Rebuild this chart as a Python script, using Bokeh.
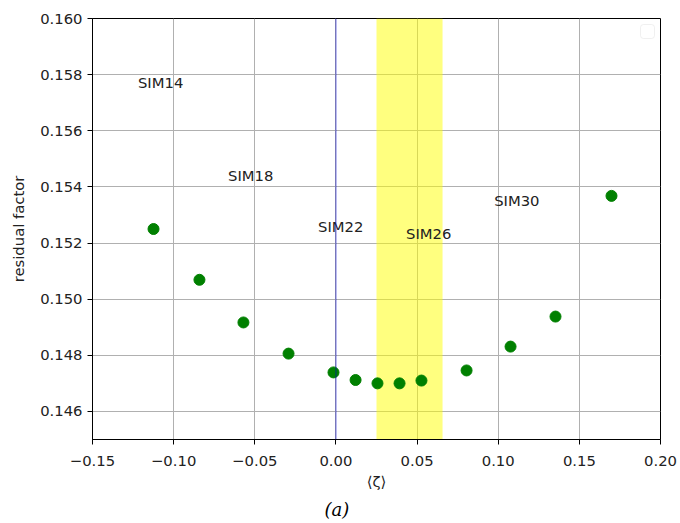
from bokeh.plotting import figure
from bokeh.models import (ColumnDataSource, Span, BoxAnnotation, Title,
                          CustomJSTickFormatter, FixedTicker, Range1d)
from bokeh.core.properties import value
from bokeh.embed import file_html
from bokeh.resources import INLINE

# ---- data ----
zeta = [-0.1124, -0.0841, -0.0570, -0.0292, -0.0015, 0.0121, 0.0256,
        0.0392, 0.0527, 0.0805, 0.1076, 0.1353, 0.1698]
residual = [0.15250, 0.15069, 0.14917, 0.14806, 0.14739, 0.14712, 0.14700,
            0.14700, 0.14710, 0.14746, 0.14831, 0.14938, 0.15368]

sim_names = ["SIM14", "SIM18", "SIM22", "SIM26", "SIM30"]
sim_label_x = [-0.1220, -0.0665, -0.0110, 0.0432, 0.0975]
sim_label_y = [0.15773, 0.15439, 0.15258, 0.15233, 0.15351]

band_start = 0.0250
band_end = 0.0657
ref_line = 0.0

x_ticks = [-0.15, -0.10, -0.05, 0.00, 0.05, 0.10, 0.15, 0.20]
y_ticks = [0.146, 0.148, 0.150, 0.152, 0.154, 0.156, 0.158, 0.160]

FONT = "DejaVu Sans"
FS = "14.8px"

p = figure(width=680, height=523, output_backend="svg", toolbar_location=None,
           x_range=Range1d(-0.15, 0.20), y_range=Range1d(0.145, 0.160),
           min_border_left=92, min_border_right=20, min_border_top=18,
           min_border_bottom=10)

p.background_fill_color = "white"
p.border_fill_color = "white"
p.outline_line_color = "black"
p.outline_line_width = 1

# grid
for g in (p.xgrid, p.ygrid):
    g.grid_line_color = "#b0b0b0"
    g.grid_line_width = 1
p.xgrid.ticker = FixedTicker(ticks=x_ticks)
p.ygrid.ticker = FixedTicker(ticks=y_ticks)

# axes
p.xaxis.ticker = FixedTicker(ticks=x_ticks)
p.yaxis.ticker = FixedTicker(ticks=y_ticks)
p.xaxis.formatter = CustomJSTickFormatter(code="return tick.toFixed(2).replace('-', '\u2212');")
p.yaxis.formatter = CustomJSTickFormatter(code="return tick.toFixed(3).replace('-', '\u2212');")
for ax in (p.xaxis[0], p.yaxis[0]):
    ax.axis_line_color = "black"
    ax.major_tick_line_color = "black"
    ax.major_tick_out = 5
    ax.major_tick_in = 0
    ax.minor_tick_line_color = None
    ax.major_label_text_font = FONT
    ax.major_label_text_font_size = FS
    ax.major_label_text_color = "#222222"
    ax.axis_label_text_font = FONT
    ax.axis_label_text_font_size = FS
    ax.axis_label_text_font_style = "normal"
    ax.axis_label_text_color = "#222222"
p.xaxis.axis_label = "\u27e8\u03b6\u27e9"
p.yaxis.axis_label = "residual factor"
p.xaxis.major_label_standoff = 11
p.xaxis.axis_label_standoff = 4
p.yaxis.major_label_standoff = 5
p.yaxis.axis_label_standoff = 10

# yellow band and reference line
p.add_layout(BoxAnnotation(left=band_start, right=band_end, fill_color="yellow",
                           fill_alpha=0.5, line_color=None, level="underlay"))
p.add_layout(Span(location=ref_line, dimension="height", line_color="#0000cc",
                  line_alpha=0.4, line_width=1.5))

# points
src = ColumnDataSource(dict(x=zeta, y=residual))
p.scatter("x", "y", source=src, size=11, fill_color="green", line_color="green")

# labels
lsrc = ColumnDataSource(dict(x=sim_label_x, y=sim_label_y, t=sim_names))
p.text("x", "y", text="t", source=lsrc, text_font=value(FONT),
       text_font_size=FS, text_color="#222222",
       text_align="left", text_baseline="alphabetic")

# empty legend box
p.add_layout(BoxAnnotation(left=548, right=562, top=415, bottom=401,
                           left_units="screen", right_units="screen",
                           top_units="screen", bottom_units="screen",
                           fill_color="white", fill_alpha=0.8,
                           line_color="#cccccc", line_width=1,
                           border_radius=3))

# caption
cap = Title(text="(a)", align="left", offset=232, standoff=8,
            text_font="DejaVu Serif", text_font_style="italic",
            text_font_size="18px", text_color="black")
p.add_layout(cap, "below")

open("out.html", "w").write(file_html(p, INLINE))
